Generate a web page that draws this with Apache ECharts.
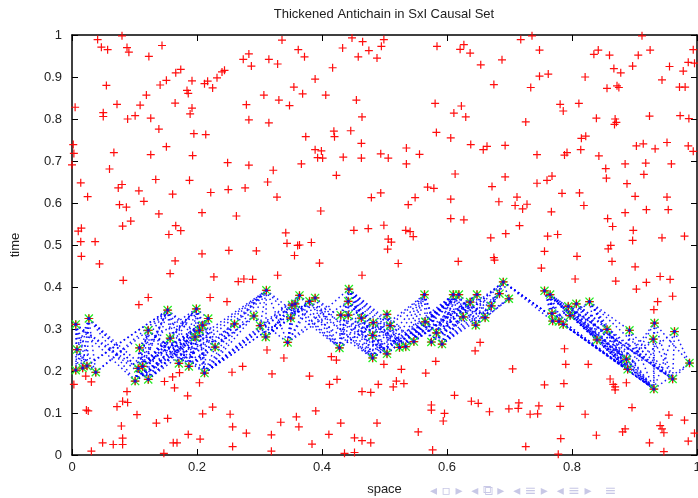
<!DOCTYPE html>
<html>
<head>
<meta charset="utf-8">
<title>Thickened Antichain in SxI Causal Set</title>
<script src="https://cdn.jsdelivr.net/npm/echarts@6/dist/echarts.min.js"></script>
<style>
  html, body { margin: 0; padding: 0; background: #fff; }
  #chart { width: 698px; height: 498px; }
</style>
</head>
<body>
<div id="chart"></div>
<script>
// Sprinkled elements of the causal set (space, time)
const sprinkledUpper = [
  [0.041,0.989],[0.047,0.971],[0.057,0.965],[0.080,0.998],[0.088,0.970],[0.091,0.959],[0.144,0.975],[0.123,0.949],
  [0.055,0.880],[0.005,0.828],[0.050,0.815],[0.050,0.806],[0.072,0.835],[0.089,0.800],[0.101,0.808],[0.109,0.833],
  [0.119,0.857],[0.126,0.802],[0.141,0.881],[0.151,0.892],[0.165,0.838],[0.166,0.910],[0.174,0.918],[0.184,0.868],
  [0.186,0.861],[0.192,0.891],[0.192,0.826],[0.189,0.812],[0.195,0.765],[0.214,0.763],[0.212,0.884],[0.217,0.890],
  [0.225,0.874],[0.232,0.898],[0.240,0.912],[0.244,0.916],[0.274,0.942],[0.283,0.955],[0.287,0.926],[0.315,0.942],
  [0.329,0.931],[0.336,0.988],[0.362,0.965],[0.372,0.948],[0.355,0.876],[0.369,0.860],[0.389,0.895],[0.406,0.857],
  [0.417,0.922],[0.433,0.969],[0.307,0.857],[0.331,0.845],[0.348,0.832],[0.279,0.834],[0.283,0.798],[0.315,0.791],
  [0.002,0.739],[0.003,0.718],[0.000,0.691],[0.014,0.648],[0.025,0.615],[0.067,0.720],[0.060,0.681],[0.074,0.636],
  [0.080,0.644],[0.076,0.596],[0.087,0.590],[0.081,0.545],[0.094,0.557],[0.107,0.629],[0.115,0.604],[0.126,0.715],
  [0.139,0.776],[0.151,0.734],[0.134,0.656],[0.139,0.574],[0.010,0.533],[0.015,0.540],[0.014,0.508],[0.037,0.508],
  [0.155,0.525],[0.166,0.546],[0.174,0.534],[0.161,0.621],[0.188,0.654],[0.193,0.713],[0.208,0.577],[0.222,0.625],
  [0.249,0.696],[0.250,0.632],[0.263,0.569],[0.277,0.636],[0.283,0.690],[0.313,0.650],[0.322,0.678],[0.328,0.614],
  [0.374,0.758],[0.389,0.727],[0.393,0.708],[0.399,0.724],[0.401,0.707],[0.367,0.693],[0.398,0.581],[0.419,0.771],
  [0.420,0.758],[0.434,0.709],[0.423,0.666],[0.342,0.529],[0.344,0.504],[0.361,0.499],[0.364,0.500],[0.383,0.506],
  [0.251,0.487],[0.295,0.486],[0.446,0.772]
];

const sprinkledUpperRight = [
  [0.448,0.993],[0.465,0.984],[0.475,0.963],[0.458,0.948],[0.488,0.945],[0.495,0.973],[0.499,0.989],[0.584,0.973],
  [0.621,0.966],[0.627,0.977],[0.637,0.957],[0.654,0.929],[0.688,0.941],[0.718,0.989],[0.736,0.998],[0.748,0.964],
  [0.748,0.902],[0.762,0.907],[0.675,0.882],[0.734,0.875],[0.835,0.954],[0.842,0.964],[0.860,0.952],[0.867,0.920],
  [0.878,0.910],[0.856,0.873],[0.872,0.879],[0.875,0.875],[0.821,0.900],[0.897,0.926],[0.906,0.952],[0.912,0.998],
  [0.925,0.964],[0.944,0.893],[0.956,0.925],[0.978,0.914],[0.986,0.935],[0.996,0.933],[0.994,0.965],[0.972,0.876],
  [0.981,0.876],[0.455,0.845],[0.464,0.805],[0.581,0.837],[0.583,0.768],[0.623,0.831],[0.611,0.814],[0.630,0.805],
  [0.606,0.755],[0.638,0.739],[0.658,0.727],[0.664,0.735],[0.693,0.737],[0.726,0.793],[0.781,0.835],[0.786,0.819],
  [0.811,0.837],[0.839,0.802],[0.869,0.800],[0.871,0.792],[0.868,0.787],[0.924,0.807],[0.973,0.808],[0.987,0.801],
  [0.815,0.754],[0.822,0.759],[0.814,0.727],[0.744,0.715],[0.788,0.714],[0.792,0.720],[0.843,0.712],[0.903,0.736],
  [0.914,0.741],[0.933,0.729],[0.952,0.744],[0.986,0.736],[0.994,0.723],[0.463,0.742],[0.463,0.707],[0.494,0.717],
  [0.506,0.707],[0.535,0.731],[0.535,0.693],[0.556,0.716],[0.854,0.682],[0.855,0.659],[0.885,0.693],[0.918,0.695],
  [0.959,0.693],[0.915,0.668],[0.613,0.669],[0.693,0.662],[0.672,0.639],[0.744,0.647],[0.760,0.654],[0.768,0.664],
  [0.888,0.646],[0.569,0.638],[0.579,0.635],[0.479,0.613],[0.494,0.624],[0.538,0.596],[0.549,0.613],[0.606,0.609],
  [0.683,0.603],[0.712,0.614],[0.709,0.594],[0.721,0.586],[0.728,0.597],[0.784,0.623],[0.812,0.624],[0.819,0.594],
  [0.767,0.579],[0.901,0.616],[0.952,0.614],[0.885,0.577],[0.919,0.584],[0.954,0.584],[0.606,0.563],[0.627,0.560],
  [0.857,0.563],[0.865,0.544],[0.451,0.535],[0.474,0.539],[0.499,0.547],[0.534,0.535],[0.541,0.532],[0.546,0.520],
  [0.506,0.514],[0.511,0.507],[0.505,0.490],[0.716,0.546],[0.670,0.517],[0.694,0.527],[0.761,0.521],[0.777,0.525],
  [0.898,0.535],[0.897,0.511],[0.944,0.517],[0.980,0.521],[0.862,0.499],[0.858,0.491],[0.756,0.485]
];

const sprinkledLower = [
  [0.015,0.473],[0.044,0.455],[0.082,0.416],[0.107,0.358],[0.122,0.375],[0.165,0.462],[0.157,0.432],[0.208,0.479],
  [0.227,0.424],[0.221,0.375],[0.248,0.365],[0.266,0.413],[0.275,0.419],[0.289,0.418],[0.329,0.428],[0.356,0.475],
  [0.396,0.457],[0.003,0.168],[0.022,0.188],[0.031,0.174],[0.023,0.107],[0.026,0.105],[0.088,0.151],[0.081,0.128],
  [0.089,0.125],[0.072,0.115],[0.079,0.069],[0.081,0.040],[0.081,0.025],[0.066,0.025],[0.049,0.029],[0.031,0.009],
  [0.104,0.096],[0.135,0.076],[0.153,0.087],[0.148,0.175],[0.161,0.186],[0.164,0.160],[0.172,0.196],[0.185,0.141],
  [0.186,0.049],[0.162,0.029],[0.168,0.029],[0.147,0.004],[0.204,0.172],[0.209,0.098],[0.205,0.038],[0.225,0.114],
  [0.253,0.097],[0.257,0.067],[0.257,0.020],[0.256,0.197],[0.273,0.211],[0.279,0.052],[0.319,0.048],[0.319,0.009],
  [0.320,0.193],[0.312,0.250],[0.339,0.231],[0.334,0.078],[0.359,0.091],[0.363,0.067],[0.380,0.188],[0.384,0.026],
  [0.390,0.105],[0.412,0.168],[0.415,0.234],[0.423,0.226],[0.424,0.180],[0.411,0.049],[0.430,0.076],[0.436,0.004]
];

const sprinkledLowerRight = [
  [0.464,0.428],[0.522,0.456],[0.618,0.461],[0.675,0.470],[0.676,0.464],[0.751,0.445],[0.808,0.473],[0.864,0.461],
  [0.805,0.419],[0.870,0.414],[0.901,0.448],[0.919,0.411],[0.903,0.395],[0.941,0.425],[0.957,0.418],[0.961,0.378],
  [0.937,0.365],[0.931,0.346],[0.645,0.248],[0.653,0.268],[0.582,0.223],[0.527,0.204],[0.566,0.195],[0.499,0.216],
  [0.490,0.168],[0.519,0.176],[0.514,0.162],[0.531,0.170],[0.464,0.151],[0.478,0.149],[0.488,0.076],[0.452,0.041],
  [0.464,0.034],[0.478,0.029],[0.452,0.006],[0.612,0.142],[0.575,0.119],[0.575,0.107],[0.596,0.099],[0.594,0.081],
  [0.639,0.128],[0.650,0.123],[0.668,0.103],[0.554,0.055],[0.577,0.012],[0.705,0.205],[0.699,0.110],[0.714,0.111],
  [0.715,0.124],[0.733,0.097],[0.745,0.098],[0.747,0.117],[0.726,0.020],[0.778,0.002],[0.782,0.039],[0.781,0.116],
  [0.756,0.167],[0.788,0.253],[0.790,0.216],[0.787,0.170],[0.826,0.216],[0.821,0.097],[0.839,0.047],[0.861,0.181],
  [0.869,0.162],[0.866,0.168],[0.869,0.155],[0.887,0.172],[0.896,0.113],[0.881,0.055],[0.885,0.062],[0.924,0.029],
  [0.941,0.070],[0.944,0.062],[0.947,0.053],[0.955,0.095],[0.947,0.008],[0.980,0.083],[0.996,0.052],[0.986,0.033]
];

// Elements of the thickened antichain
const antichainLeft = [
  [0.006,0.311],[0.027,0.325],[0.008,0.251],[0.006,0.202],[0.017,0.207],[0.024,0.212],[0.038,0.197],[0.101,0.176],
  [0.108,0.255],[0.106,0.206],[0.113,0.211],[0.122,0.297],[0.122,0.180],[0.153,0.345],[0.157,0.278],[0.171,0.218],
  [0.187,0.211],[0.199,0.348],[0.197,0.281],[0.204,0.297],[0.209,0.309],[0.218,0.325],[0.212,0.195],[0.229,0.257],
  [0.260,0.312],[0.291,0.331],[0.301,0.308],[0.311,0.392],[0.310,0.281],[0.345,0.268],[0.350,0.326],[0.352,0.357],
  [0.357,0.360],[0.364,0.380],[0.380,0.366],[0.389,0.374],[0.428,0.255],[0.430,0.333],[0.443,0.395],[0.442,0.366],
  [0.442,0.333]
];

const antichainRight = [
  [0.463,0.326],[0.482,0.315],[0.481,0.285],[0.481,0.231],[0.504,0.335],[0.509,0.308],[0.504,0.241],[0.524,0.256],
  [0.534,0.258],[0.547,0.270],[0.564,0.382],[0.565,0.317],[0.575,0.269],[0.583,0.291],[0.592,0.264],[0.610,0.382],
  [0.619,0.382],[0.626,0.329],[0.637,0.364],[0.648,0.382],[0.646,0.309],[0.661,0.327],[0.671,0.355],[0.684,0.384],
  [0.690,0.412],[0.699,0.372],[0.756,0.391],[0.765,0.382],[0.768,0.337],[0.769,0.319],[0.779,0.318],[0.786,0.311],
  [0.794,0.354],[0.797,0.332],[0.807,0.360],[0.828,0.365],[0.856,0.299],[0.840,0.274],[0.892,0.297],[0.887,0.228],
  [0.889,0.204],[0.932,0.314],[0.930,0.276],[0.931,0.157],[0.964,0.294],[0.961,0.181],[0.988,0.219]
];

const sprinkled = sprinkledUpper.concat(sprinkledUpperRight, sprinkledLower, sprinkledLowerRight);
const antichain = antichainLeft.concat(antichainRight);

// Causal relations inside the antichain: pairs whose separation is timelike
const relations = [];
for (let i = 0; i < antichain.length; i++) {
  for (let j = i + 1; j < antichain.length; j++) {
    const dx = antichain[j][0] - antichain[i][0];
    const dt = antichain[j][1] - antichain[i][1];
    if (Math.abs(dt) > Math.abs(dx)) {
      relations.push({ coords: [antichain[i], antichain[j]] });
    }
  }
}

// Marker outlines (filled thin bars)
const PLUS = 'path://M3.4,0h1.2v8h-1.2zM0,3.4h8v1.2h-8z';
const STAR = 'path://M3.45,0h1.1v8h-1.1zM0,3.45h8v1.1h-8zM0.8,0L8,7.2L7.2,8L0,0.8zM7.2,0L8,0.8L0.8,8L0,7.2z';

const FONT = 'Liberation Sans, Arial, Helvetica, sans-serif';

const chart = echarts.init(document.getElementById('chart'), null, { renderer: 'canvas' });

const baseAxis = {
  type: 'value', min: 0, max: 1, interval: 0.2,
  axisLine: { show: true, onZero: false, lineStyle: { color: '#000', width: 1.5 } },
  axisTick: { show: true, inside: true, length: 6, lineStyle: { color: '#000', width: 1 } },
  splitLine: { show: false }
};

chart.setOption({
  backgroundColor: '#ffffff',
  animation: false,
  grid: { left: 72, right: 1, top: 35, bottom: 43, containLabel: false, outerBoundsMode: 'none' },
  xAxis: [
    Object.assign({}, baseAxis, {
      position: 'bottom',
      name: 'space', nameLocation: 'middle', nameGap: 28,
      nameTextStyle: { color: '#222', fontSize: 13, fontFamily: FONT },
      axisLabel: { color: '#222', fontSize: 13, fontFamily: FONT, margin: 6 }
    }),
    Object.assign({}, baseAxis, { position: 'top', axisLabel: { show: false } })
  ],
  yAxis: [
    Object.assign({}, baseAxis, {
      interval: 0.1,
      position: 'left',
      name: 'time', nameLocation: 'middle', nameGap: 50,
      nameTextStyle: { color: '#222', fontSize: 13, fontFamily: FONT },
      axisLabel: { color: '#222', fontSize: 13, fontFamily: FONT, margin: 10 }
    }),
    Object.assign({}, baseAxis, { interval: 0.1, position: 'right', axisLabel: { show: false } })
  ],
  graphic: [
    {
      type: 'text', x: 384, y: 14,
      style: {
        text: 'Thickened Antichain in SxI Causal Set',
        fill: '#222', font: '13px ' + FONT,
        textAlign: 'center', textVerticalAlign: 'middle'
      }
    },
    {
      type: 'text', x: 430, y: 484,
      style: {
        text: '◂ ▫ ▸  ◂ ⧉ ▸  ◂ ≡ ▸  ◂ ≡ ▸   ≡',
        fill: '#c8c8e6', font: '14px DejaVu Sans'
      }
    }
  ],
  series: [
    {
      type: 'lines',
      coordinateSystem: 'cartesian2d',
      xAxisIndex: 0, yAxisIndex: 0,
      silent: true,
      data: relations,
      lineStyle: { color: '#0000ff', width: 1.5, type: [1.5, 3], opacity: 0.9 },
      z: 1
    },
    {
      type: 'scatter',
      xAxisIndex: 0, yAxisIndex: 0,
      silent: true,
      data: antichain,
      symbol: STAR, symbolSize: 9,
      itemStyle: { color: '#22ee22', opacity: 1 },
      z: 2
    },
    {
      type: 'scatter',
      xAxisIndex: 0, yAxisIndex: 0,
      silent: true,
      data: sprinkled.concat(antichain),
      symbol: PLUS, symbolSize: 8,
      itemStyle: { color: '#ff0000', opacity: 0.95 },
      z: 3
    },
    {
      type: 'scatter',
      xAxisIndex: 0, yAxisIndex: 0,
      silent: true,
      data: antichain,
      symbol: 'rect', symbolSize: 3,
      itemStyle: { color: '#0000ff' },
      z: 4
    }
  ]
});
</script>
</body>
</html>
